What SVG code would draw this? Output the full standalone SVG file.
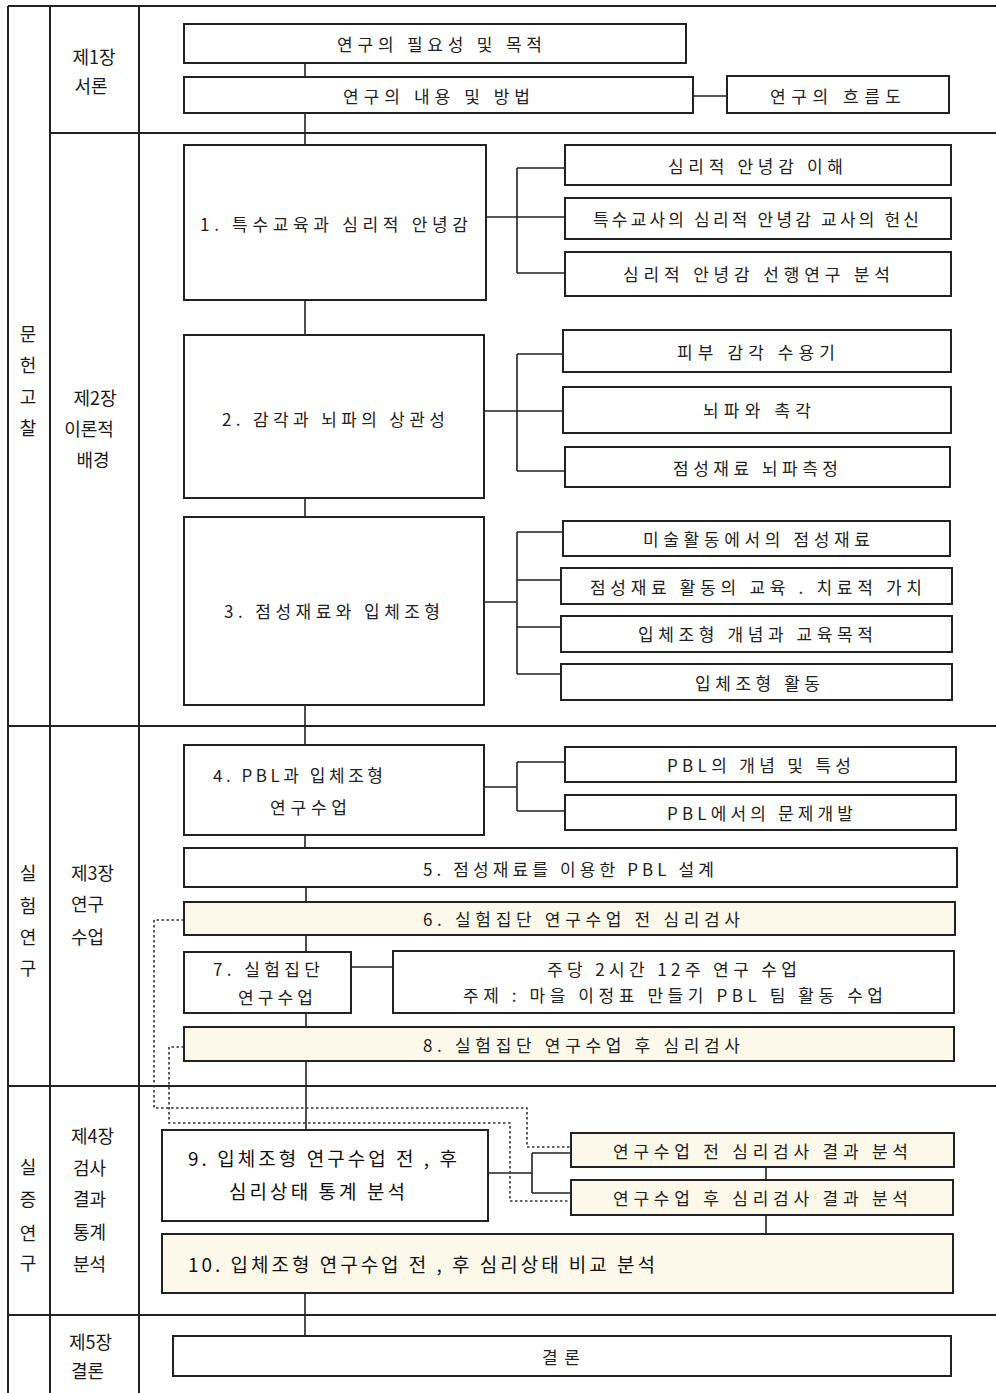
<svg xmlns="http://www.w3.org/2000/svg" width="996" height="1393" viewBox="0 0 996 1393">
<style>
text{font-family:"Noto Sans CJK KR","Noto Sans",sans-serif;fill:#222;dominant-baseline:central}
.t{font-size:17px}
.lbl{font-size:18px;fill:#1a1a1a}
.big{font-size:19px;fill:#111}
.box{fill:#fff;stroke:#222;stroke-width:2}
.cream{fill:#FDF9EA;stroke:#222;stroke-width:2}
.grid{stroke:#222;stroke-width:2;fill:none}
.conn{stroke:#222;stroke-width:1.6;fill:none}
.dot{stroke:#333;stroke-width:1.6;fill:none;stroke-dasharray:2.5 2.5}
</style>
<rect width="996" height="1393" fill="#fff"/>
<g id="table" class="grid">
<path d="M8,6H996M8,6V1393M50,6V1393M139,6V1393M50,133H996M8,726H996M8,1086H996M8,1315H996"/>
</g>
<g id="labels">
<text class="lbl" x="28" y="333" text-anchor="middle">문</text>
<text class="lbl" x="28" y="364" text-anchor="middle">헌</text>
<text class="lbl" x="28" y="396" text-anchor="middle">고</text>
<text class="lbl" x="28" y="427" text-anchor="middle">찰</text>
<text class="lbl" x="28" y="872" text-anchor="middle">실</text>
<text class="lbl" x="28" y="905" text-anchor="middle">험</text>
<text class="lbl" x="28" y="936" text-anchor="middle">연</text>
<text class="lbl" x="28" y="967" text-anchor="middle">구</text>
<text class="lbl" x="28" y="1166" text-anchor="middle">실</text>
<text class="lbl" x="28" y="1198" text-anchor="middle">증</text>
<text class="lbl" x="28" y="1232" text-anchor="middle">연</text>
<text class="lbl" x="28" y="1262" text-anchor="middle">구</text>
<text class="lbl" x="94" y="56" text-anchor="middle">제1장</text>
<text class="lbl" x="91" y="85" text-anchor="middle">서론</text>
<text class="lbl" x="95" y="397" text-anchor="middle">제2장</text>
<text class="lbl" x="89" y="428" text-anchor="middle">이론적</text>
<text class="lbl" x="93" y="459" text-anchor="middle">배경</text>
<text class="lbl" x="71" y="872">제3장</text>
<text class="lbl" x="71" y="903">연구</text>
<text class="lbl" x="71" y="936">수업</text>
<text class="lbl" x="71" y="1135">제4장</text>
<text class="lbl" x="73" y="1167">검사</text>
<text class="lbl" x="73" y="1198">결과</text>
<text class="lbl" x="73" y="1231">통계</text>
<text class="lbl" x="73" y="1263">분석</text>
<text class="lbl" x="69" y="1341">제5장</text>
<text class="lbl" x="71" y="1370">결론</text>
</g>
<g id="connectors">
<path class="conn" d="M305,63V77M305,113V145M693,96H727"/>
<path class="conn" d="M305,300V335M486,217H565M517,168V273M517,168H565M517,273H565"/>
<path class="conn" d="M305,498V517M484,411H563M517,354V471M517,354H563M517,471H565"/>
<path class="conn" d="M305,705V745M484,602H517M517,532V674M517,532H563M517,580H561M517,627H561M517,674H561"/>
<path class="conn" d="M484,787H517M517,762V811M517,762H565M517,811H565"/>
<path class="conn" d="M305,835V848M306,887V902M306,935V952M306,1013V1027M306,1061V1130M351,967H393"/>
<path class="conn" d="M488,1173H532M532,1153V1193M532,1153H571M532,1193H571M766,1167V1180M766,1215V1234M305,1293V1336"/>
<path class="dot" d="M184,920H154V1108H527V1147H571"/>
<path class="dot" d="M184,1047H169V1123H510V1201H571"/>
</g>
<g id="n-purpose"><rect class="box" x="184" y="24" width="502" height="39"/><text class="t" x="337" y="43" textLength="205">연구의 필요성 및 목적</text></g>
<g id="n-content"><rect class="box" x="184" y="77" width="509" height="36"/><text class="t" x="343" y="95" textLength="187">연구의 내용 및 방법</text></g>
<g id="n-flow"><rect class="box" x="727" y="76" width="222" height="37"/><text class="t" x="770" y="95" textLength="131">연구의 흐름도</text></g>
<g id="n1"><rect class="box" x="184" y="145" width="302" height="155"/><text class="t" x="200" y="223" textLength="268">1. 특수교육과 심리적 안녕감</text></g>
<g id="n1a"><rect class="box" x="565" y="145" width="386" height="40"/><text class="t" x="668" y="165" textLength="175">심리적 안녕감 이해</text></g>
<g id="n1b"><rect class="box" x="565" y="198" width="386" height="41"/><text class="t" x="593" y="218" textLength="326">특수교사의 심리적 안녕감 교사의 헌신</text></g>
<g id="n1c"><rect class="box" x="565" y="252" width="386" height="44"/><text class="t" x="623" y="273" textLength="267">심리적 안녕감 선행연구 분석</text></g>
<g id="n2"><rect class="box" x="184" y="335" width="300" height="163"/><text class="t" x="222" y="418" textLength="223">2. 감각과 뇌파의 상관성</text></g>
<g id="n2a"><rect class="box" x="563" y="330" width="388" height="42"/><text class="t" x="677" y="351" textLength="158">피부 감각 수용기</text></g>
<g id="n2b"><rect class="box" x="563" y="387" width="388" height="46"/><text class="t" x="703" y="409" textLength="108">뇌파와 촉각</text></g>
<g id="n2c"><rect class="box" x="565" y="447" width="385" height="40"/><text class="t" x="673" y="467" textLength="165">점성재료 뇌파측정</text></g>
<g id="n3"><rect class="box" x="184" y="517" width="300" height="188"/><text class="t" x="224" y="610" textLength="216">3. 점성재료와 입체조형</text></g>
<g id="n3a"><rect class="box" x="563" y="521" width="387" height="35"/><text class="t" x="643" y="538" textLength="227">미술활동에서의 점성재료</text></g>
<g id="n3b"><rect class="box" x="561" y="568" width="391" height="36"/><text class="t" x="590" y="586" textLength="332">점성재료 활동의 교육 . 치료적 가치</text></g>
<g id="n3c"><rect class="box" x="561" y="616" width="391" height="36"/><text class="t" x="638" y="633" textLength="235">입체조형 개념과 교육목적</text></g>
<g id="n3d"><rect class="box" x="561" y="664" width="391" height="36"/><text class="t" x="695" y="682" textLength="125">입체조형 활동</text></g>
<g id="n4"><rect class="box" x="184" y="745" width="300" height="90"/><text class="t" x="213" y="774" textLength="170">4. PBL과 입체조형</text><text class="t" x="270" y="806" textLength="77">연구수업</text></g>
<g id="n4a"><rect class="box" x="565" y="747" width="391" height="35"/><text class="t" x="667" y="764" textLength="184">PBL의 개념 및 특성</text></g>
<g id="n4b"><rect class="box" x="565" y="795" width="391" height="35"/><text class="t" x="667" y="812" textLength="186">PBL에서의 문제개발</text></g>
<g id="n5"><rect class="box" x="184" y="848" width="773" height="39"/><text class="t" x="423" y="868" textLength="291">5. 점성재료를 이용한 PBL 설계</text></g>
<g id="n6"><rect class="cream" x="184" y="902" width="771" height="33"/><text class="t" x="423" y="918" textLength="317">6. 실험집단 연구수업 전 심리검사</text></g>
<g id="n7"><rect class="box" x="184" y="952" width="167" height="61"/><text class="t" x="213" y="968" textLength="107">7. 실험집단</text><text class="t" x="238" y="996" textLength="75">연구수업</text></g>
<g id="n7a"><rect class="box" x="393" y="951" width="561" height="62"/><text class="t" x="547" y="968" textLength="250">주당 2시간 12주 연구 수업</text><text class="t" x="463" y="994" textLength="420">주제 : 마을 이정표 만들기 PBL 팀 활동 수업</text></g>
<g id="n8"><rect class="cream" x="184" y="1027" width="770" height="34"/><text class="t" x="423" y="1044" textLength="317">8. 실험집단 연구수업 후 심리검사</text></g>
<g id="n9"><rect class="box" x="162" y="1130" width="326" height="91"/><text class="big" x="188" y="1157" textLength="269">9. 입체조형 연구수업 전 , 후</text><text class="big" x="229" y="1190" textLength="176">심리상태 통계 분석</text></g>
<g id="n9a"><rect class="cream" x="571" y="1133" width="383" height="34"/><text class="t" x="613" y="1150" textLength="295">연구수업 전 심리검사 결과 분석</text></g>
<g id="n9b"><rect class="cream" x="571" y="1180" width="382" height="35"/><text class="t" x="613" y="1197" textLength="295">연구수업 후 심리검사 결과 분석</text></g>
<g id="n10"><rect class="cream" x="162" y="1234" width="791" height="59"/><text class="big" x="188" y="1263" textLength="467">10. 입체조형 연구수업 전 , 후 심리상태 비교 분석</text></g>
<g id="n-conclusion"><rect class="box" x="173" y="1336" width="778" height="40"/><text class="t" x="542" y="1356" textLength="38">결론</text></g>
</svg>
